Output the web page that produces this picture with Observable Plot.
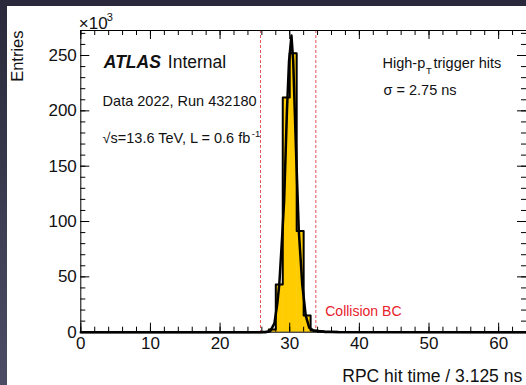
<!DOCTYPE html>
<html><head><meta charset="utf-8">
<script src="https://cdn.jsdelivr.net/npm/d3@7"></script>
<script src="https://cdn.jsdelivr.net/npm/@observablehq/plot@0.6"></script>
<style>
html,body{margin:0;padding:0;width:526px;height:385px;overflow:hidden;background:linear-gradient(#29293b,#4c4c65);}
#panel{position:absolute;left:7px;top:6px;width:519px;height:379px;background:#fff;overflow:hidden;}
#panel svg{display:block;}
</style></head><body><div id="panel"></div>
<script>
// Histogram bins (lower edge, bin width 1) and entries in units of 10^3
const binLow = [26, 27, 28, 29, 30, 31, 32, 33, 34];
const binCounts = [0.3, 2.5, 43, 212, 252, 91.5, 15, 1.5, 0.4];
// Fitted curve (x, entries ×10^3)
const fitX = [0, 26.5, 27.2, 27.8, 28.2, 28.5, 28.9, 29.2, 29.6, 29.9, 30.25, 30.5, 30.9, 31.3, 31.8, 32.3, 32.8, 33.5, 35, 37, 64];
const fitY = [0, 0, 1, 8, 25, 43, 85, 119, 200, 245, 268, 245, 165, 92, 43, 15, 4, 1.2, 0.6, 0.2, 0];
// Axis ticks
const xMajor = [0, 10, 20, 30, 40, 50, 60];
const xMinor = d3.range(0, 65, 2);
const yMajor = [0, 50, 100, 150, 200, 250];
const yMinor = d3.range(0, 271, 10);
// Collision bunch-crossing window edges
const windowEdges = [25.8, 33.75];

const font = "'Liberation Sans', Arial, Helvetica, sans-serif";
const ink = "#111";

const bins = binLow.map((lo, i) => ({lo, hi: lo + 1, n: binCounts[i]}));
const steps = [{x: 0, y: 0}, ...bins.map(b => ({x: b.lo, y: b.n})), {x: binLow[binLow.length - 1] + 1, y: 0}, {x: 64, y: 0}];
const fit = fitX.map((x, i) => ({x, y: fitY[i]}));

const T = (txt, o) => Plot.text([txt], {lineAnchor: "middle", fill: ink, ...o});

const chart = Plot.plot({
  width: 519,
  height: 379,
  marginLeft: 73.3,
  marginTop: 24,
  marginBottom: 53.3,
  marginRight: 0,
  style: {fontFamily: font, background: "#fff", color: ink, overflow: "visible"},
  x: {domain: [0, 64], axis: null},
  y: {domain: [0, 272.6], axis: null},
  marks: [
    Plot.rectY(bins, {x1: "lo", x2: "hi", y: "n", fill: "#ffcc00", stroke: "#ffcc00", strokeWidth: 0.5}),
    Plot.ruleX(windowEdges, {x: d => d, stroke: "#e8505a", strokeWidth: 1, strokeDasharray: "3,2"}),
    Plot.line(steps, {x: "x", y: "y", curve: "step-after", stroke: "#000", strokeWidth: 2}),
    Plot.line(fit, {x: "x", y: "y", stroke: "#000", strokeWidth: 2.5, strokeLinejoin: "round"}),
    Plot.frame({stroke: "#000", strokeWidth: 1}),
    // ticks: bottom / top
    Plot.ruleX(xMajor, {x: d => d, y1: 0, y2: 0, insetTop: -9, stroke: "#000"}),
    Plot.ruleX(xMinor, {x: d => d, y1: 0, y2: 0, insetTop: -5, stroke: "#000"}),
    Plot.ruleX(xMajor, {x: d => d, y1: 272.6, y2: 272.6, insetBottom: -9, stroke: "#000"}),
    Plot.ruleX(xMinor, {x: d => d, y1: 272.6, y2: 272.6, insetBottom: -5, stroke: "#000"}),
    // ticks: left / right
    Plot.ruleY(yMajor, {y: d => d, x1: 0, x2: 0, insetRight: -9, stroke: "#000"}),
    Plot.ruleY(yMinor, {y: d => d, x1: 0, x2: 0, insetRight: -5, stroke: "#000"}),
    Plot.ruleY(yMajor, {y: d => d, x1: 64, x2: 64, insetLeft: -9, stroke: "#000"}),
    Plot.ruleY(yMinor, {y: d => d, x1: 64, x2: 64, insetLeft: -5, stroke: "#000"}),
    // tick labels
    Plot.text(xMajor, {x: d => d, y: 0, text: d => String(d), dy: 11, fontSize: 17, fill: ink}),
    Plot.text(yMajor, {x: 0, y: d => d, text: d => String(d), textAnchor: "end", dx: -4, fontSize: 17, fill: ink}),
    T("×10", {frameAnchor: "top-left", dx: -2, dy: -7, textAnchor: "start", fontSize: 17}),
    T("3", {frameAnchor: "top-left", dx: 26, dy: -13, textAnchor: "start", fontSize: 11}),
    // axis titles
    T("Entries", {frameAnchor: "top-left", dx: -63, dy: 0, rotate: -90, textAnchor: "end", fontSize: 16.5}),
    T("RPC hit time / 3.125 ns", {frameAnchor: "bottom-right", dx: -4.3, dy: 44, textAnchor: "end", fontSize: 17.5}),
    // annotations
    T("ATLAS", {frameAnchor: "top-left", dx: 23, dy: 31.7, textAnchor: "start", fontSize: 17.5, fontWeight: "bold", fontStyle: "italic"}),
    T("Internal", {frameAnchor: "top-left", dx: 87, dy: 31.7, textAnchor: "start", fontSize: 17.5}),
    T("Data 2022, Run 432180", {frameAnchor: "top-left", dx: 21.8, dy: 71, textAnchor: "start", fontSize: 14.5}),
    T("√s=13.6 TeV, L = 0.6 fb", {frameAnchor: "top-left", dx: 21.8, dy: 108.3, textAnchor: "start", fontSize: 14.5}),
    T("-1", {frameAnchor: "top-left", dx: 171, dy: 103, textAnchor: "start", fontSize: 9.5}),
    T("High-p", {frameAnchor: "top-right", dx: -144, dy: 33, textAnchor: "start", fontSize: 14.5}),
    T("T", {frameAnchor: "top-right", dx: -100.5, dy: 40.5, textAnchor: "start", fontSize: 9.5}),
    T("trigger hits", {frameAnchor: "top-right", dx: -93, dy: 33, textAnchor: "start", fontSize: 14.5}),
    T("σ = 2.75 ns", {frameAnchor: "top-right", dx: -143, dy: 60, textAnchor: "start", fontSize: 14.5}),
    T("Collision BC", {x: 35.1, frameAnchor: "bottom", dy: -20.7, textAnchor: "start", fontSize: 14, fill: "#e8202a"})
  ]
});
document.getElementById("panel").appendChild(chart);
</script>
</body></html>
